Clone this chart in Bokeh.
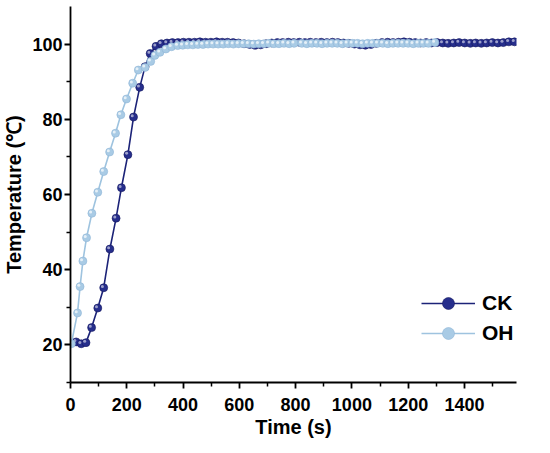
from bokeh.plotting import figure
from bokeh.models import Range1d, FixedTicker, Legend, LegendItem
from bokeh.embed import file_html
from bokeh.resources import INLINE

# ---- data ----
ck_time = [20, 38, 55, 75, 97, 118, 140, 162, 181, 204,
           224, 246, 265, 283, 304, 323,
           343, 362, 382, 401, 421, 441, 460, 480, 499, 519,
           539, 558, 578, 597, 617, 637, 656, 676, 695, 715,
           735, 754, 774, 793, 813, 833, 852, 872, 891, 911,
           931, 950, 970, 989, 1009, 1029, 1048, 1068, 1087, 1107,
           1127, 1146, 1166, 1185, 1205, 1225, 1244, 1264, 1283, 1303,
           1323, 1342, 1362, 1381, 1401, 1421, 1440, 1460, 1479, 1499,
           1519, 1538, 1558, 1578]
ck_temp = [20.8, 20.3, 20.6, 24.6, 29.8, 35.2, 45.5, 53.7, 61.8, 70.6,
           80.6, 88.5, 94.0, 97.5, 99.4, 100.1,
           100.3, 100.4, 100.4, 100.5, 100.5, 100.5, 100.6, 100.5, 100.5, 100.6,
           100.5, 100.5, 100.4, 100.3, 100.1, 99.9, 99.7, 99.8, 100.1, 100.3,
           100.4, 100.4, 100.5, 100.4, 100.5, 100.4, 100.5, 100.4, 100.5, 100.4,
           100.5, 100.4, 100.3, 100.2, 100.0, 99.8, 99.7, 99.9, 100.2, 100.4,
           100.5, 100.4, 100.5, 100.6, 100.5, 100.4, 100.3, 100.4, 100.3, 100.4,
           100.3, 100.2, 100.3, 100.4, 100.3, 100.2, 100.3, 100.2, 100.3, 100.4,
           100.3, 100.4, 100.6, 100.6]

oh_time = [3, 25, 34, 44, 57, 76, 97, 118, 139, 160,
           179, 199, 221, 241, 265, 285, 300, 318, 339, 359,
           381, 399, 417, 435, 453, 471, 489, 507, 525, 543,
           561, 579, 597, 615, 633, 651, 669, 687, 705, 723,
           741, 759, 777, 795, 822, 840, 858, 876, 894, 912,
           930, 948, 966, 984, 1002, 1020, 1038, 1056, 1074, 1092,
           1110, 1128, 1146, 1164, 1182, 1200, 1218, 1236, 1254, 1272,
           1295]
oh_temp = [20.3, 28.5, 35.5, 42.3, 48.5, 55.0, 60.6, 66.1, 71.3, 76.3,
           81.2, 85.4, 89.6, 93.1, 93.8, 95.4, 97.0, 97.8, 98.7, 99.3,
           99.6, 99.7, 99.8, 99.8, 99.9, 99.9, 100.0, 100.0, 100.0, 100.0,
           100.1, 100.0, 100.1, 100.1, 100.1, 100.0, 100.1, 100.1, 100.2, 100.1,
           100.1, 100.2, 100.1, 100.2, 100.2, 100.1, 100.2, 100.2, 100.1, 100.2,
           100.2, 100.2, 100.1, 100.2, 100.2, 100.2, 100.1, 100.2, 100.2, 100.2,
           100.2, 100.1, 100.2, 100.2, 100.2, 100.2, 100.1, 100.2, 100.2, 100.2,
           100.4]

x_ticks = [0, 200, 400, 600, 800, 1000, 1200, 1400]
x_minor = [100, 300, 500, 700, 900, 1100, 1300, 1500]
y_ticks = [20, 40, 60, 80, 100]
y_minor = [10, 30, 50, 70, 90]

X_MAX, Y_MIN, Y_MAX = 1585, 10, 110
FW, FH = 446, 376

CK_FILL, CK_LINE = "#262e8c", "#1c2378"
OH_FILL, OH_LINE = "#a9cbe5", "#9ec3df"
FONT = "Liberation Sans"

p = figure(frame_width=FW, frame_height=FH,
           x_range=Range1d(0, X_MAX), y_range=Range1d(Y_MIN, Y_MAX),
           output_backend="svg", toolbar_location=None,
           min_border_left=68, min_border_right=22,
           min_border_top=6, min_border_bottom=60)
p.outline_line_color = None
p.grid.visible = False
p.background_fill_color = "white"

# small offsets in data units for sphere-like highlights
dx = -1.3 * X_MAX / FW
dy = 1.3 * (Y_MAX - Y_MIN) / FH

ck_line = p.line(ck_time, ck_temp, line_color=CK_LINE, line_width=1.6)
ck_sc = p.scatter(ck_time, ck_temp, size=8, fill_color=CK_FILL,
                  line_color="#151a60", line_width=0.6)
p.scatter([t + dx for t in ck_time], [v + dy for v in ck_temp], size=3,
          fill_color="white", fill_alpha=0.55, line_color=None)

oh_line = p.line(oh_time, oh_temp, line_color=OH_LINE, line_width=1.6)
oh_sc = p.scatter(oh_time, oh_temp, size=8, fill_color=OH_FILL,
                  line_color="#8fb6d6", line_width=0.6)
p.scatter([t + dx for t in oh_time], [v + dy for v in oh_temp], size=3,
          fill_color="white", fill_alpha=0.7, line_color=None)

for ax in (p.xaxis[0], p.yaxis[0]):
    ax.axis_line_width = 1.8
    ax.axis_line_color = "black"
    ax.major_tick_line_width = 1.8
    ax.minor_tick_line_width = 1.5
    ax.major_tick_out = 6
    ax.major_tick_in = 0
    ax.minor_tick_out = 4
    ax.minor_tick_in = 0
    ax.major_label_text_font = FONT
    ax.major_label_text_font_style = "bold"
    ax.major_label_text_font_size = "18px"
    ax.major_label_text_color = "black"
    ax.axis_label_text_font = FONT
    ax.axis_label_text_font_style = "bold"
    ax.axis_label_text_font_size = "20px"
    ax.axis_label_text_color = "black"

p.xaxis[0].ticker = FixedTicker(ticks=x_ticks, minor_ticks=x_minor)
p.yaxis[0].ticker = FixedTicker(ticks=y_ticks, minor_ticks=y_minor)
p.xaxis[0].axis_label = "Time (s)"
p.yaxis[0].axis_label = "Temperature (\u2103)"
p.xaxis[0].major_label_standoff = 9
p.yaxis[0].major_label_standoff = 2
p.xaxis[0].axis_label_standoff = 2
p.yaxis[0].axis_label_standoff = 4

legend = Legend(items=[LegendItem(label="CK", renderers=[ck_line, ck_sc]),
                       LegendItem(label="OH", renderers=[oh_line, oh_sc])],
                location=(351, 34))
legend.background_fill_alpha = 0
legend.border_line_alpha = 0
legend.padding = 0
legend.margin = 0
legend.spacing = 0
legend.glyph_width = 54
legend.glyph_height = 30
legend.label_height = 30
legend.label_standoff = 7
legend.label_text_font = FONT
legend.label_text_font_style = "bold"
legend.label_text_font_size = "21px"
legend.label_text_color = "black"
p.add_layout(legend)

open("out.html", "w").write(file_html(p, INLINE))
